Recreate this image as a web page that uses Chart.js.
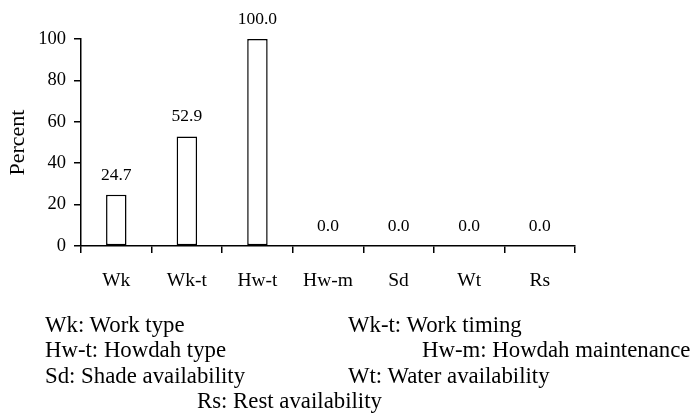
<!DOCTYPE html>
<html>
<head>
<meta charset="utf-8">
<script src="https://cdn.jsdelivr.net/npm/chart.js@4/dist/chart.umd.min.js"></script>
<style>
  body { margin: 0; background: #fff; }
  #wrap { position: relative; width: 695px; height: 418px; }
  #chart { position: absolute; left: 0; top: 0; }
  .note {
    position: absolute;
    font-family: "Liberation Serif", "Times New Roman", serif;
    font-size: 22.8px;
    line-height: 25px;
    white-space: nowrap;
    color: #000;
  }
</style>
</head>
<body>
<div id="wrap">
  <canvas id="chart" width="695" height="418"></canvas>
  <div class="note" style="left:45px; top:312px;">Wk: Work type</div>
  <div class="note" style="left:348px; top:312px;">Wk-t: Work timing</div>
  <div class="note" style="left:45px; top:337px;">Hw-t: Howdah type</div>
  <div class="note" style="left:422px; top:337px;">Hw-m: Howdah maintenance</div>
  <div class="note" style="left:45px; top:363px;">Sd: Shade availability</div>
  <div class="note" style="left:348px; top:363px;">Wt: Water availability</div>
  <div class="note" style="left:197px; top:388px;">Rs: Rest availability</div>
</div>
<script>
var categories = ['Wk', 'Wk-t', 'Hw-t', 'Hw-m', 'Sd', 'Wt', 'Rs'];
var percentValues = [24.7, 52.9, 100.0, 0.0, 0.0, 0.0, 0.0];
var yTicks = [0, 20, 40, 60, 80, 100];

var serif = '"Liberation Serif", "Times New Roman", serif';

// numbers above the bars
var valueLabels = {
    id: 'valueLabels',
    afterDatasetsDraw: function (chart) {
        var ctx = chart.ctx;
        var meta = chart.getDatasetMeta(0);
        ctx.save();
        ctx.font = '17.5px ' + serif;
        ctx.fillStyle = '#000';
        ctx.textAlign = 'center';
        ctx.textBaseline = 'alphabetic';
        meta.data.forEach(function (bar, i) {
            ctx.fillText(percentValues[i].toFixed(1), bar.x, bar.y - 15);
        });
        ctx.restore();
    }
};

var ctx = document.getElementById('chart').getContext('2d');
var chart = new Chart(ctx, {
    type: 'bar',
    data: {
        labels: categories,
        datasets: [{
            data: percentValues,
            backgroundColor: '#ffffff',
            borderColor: '#000000',
            borderWidth: 1.5,
            borderSkipped: false,
            barPercentage: 0.29,
            categoryPercentage: 1.0
        }]
    },
    options: {
        responsive: false,
        devicePixelRatio: 1,
        animation: false,
        layout: {
            padding: { left: 0, right: 120, top: 39, bottom: 0 }
        },
        plugins: {
            legend: { display: false },
            title: { display: false },
            tooltip: { enabled: false }
        },
        scales: {
            x: {
                offset: true,
                grid: {
                    display: true,
                    offset: true,
                    drawOnChartArea: false,
                    drawTicks: true,
                    tickLength: 7,
                    color: '#000',
                    lineWidth: 1.5
                },
                border: { display: true, color: '#000', width: 1.5 },
                ticks: {
                    color: '#000',
                    padding: 16,
                    maxRotation: 0,
                    font: { family: serif, size: 19.5 }
                },
                afterFit: function (scale) { scale.height = 172; }
            },
            y: {
                min: 0,
                max: 100,
                afterBuildTicks: function (scale) {
                    scale.ticks = yTicks.map(function (v) { return { value: v }; });
                },
                grid: {
                    display: true,
                    drawOnChartArea: false,
                    drawTicks: true,
                    tickLength: 7,
                    color: '#000',
                    lineWidth: 1.5
                },
                border: { display: true, color: '#000', width: 1.5 },
                ticks: {
                    color: '#000',
                    padding: 8,
                    font: { family: serif, size: 18.5 }
                },
                title: {
                    display: true,
                    text: 'Percent',
                    color: '#000',
                    padding: { top: 5, bottom: 0 },
                    font: { family: serif, size: 22 }
                },
                afterFit: function (scale) { scale.width = 81; }
            }
        }
    },
    plugins: [valueLabels]
});
</script>
</body>
</html>
